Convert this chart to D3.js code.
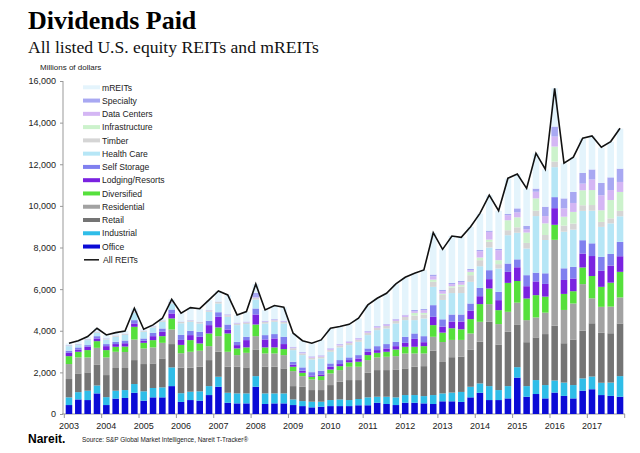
<!DOCTYPE html>
<html>
<head>
<meta charset="utf-8">
<script src="https://cdn.jsdelivr.net/npm/d3@7"></script>
<style>
  body { margin: 0; background: #fff; }
  svg text { font-family: "Liberation Sans", Arial, sans-serif; }
  svg text.serif { font-family: "Liberation Serif", "DejaVu Serif", serif; }
</style>
</head>
<body>
<div id="chart"></div>
<script>
// years on the x axis, four quarters each
var years = [2003, 2004, 2005, 2006, 2007, 2008, 2009, 2010, 2011, 2012, 2013, 2014, 2015, 2016, 2017];
var yTicks = [0, 2000, 4000, 6000, 8000, 10000, 12000, 14000, 16000];

// millions of dollars, quarterly 2003Q1 .. 2017Q4
var office = [430,700,670,990,430,740,770,1020,640,800,800,1340,580,670,640,910,1310,540,510,
  510,1310,480,510,510,430,380,320,350,380,380,380,420,420,540,480,430,540,
  540,510,480,610,610,580,800,1020,670,670,750,
  1750,830,960,750,1030,870,750,1120,1190,910,870,830];
var industrial = [370,350,450,380,380,380,380,420,450,450,480,900,420,400,450,430,480,480,480,
  480,510,510,480,480,270,240,270,240,290,320,290,300,380,290,350,370,370,
  370,350,430,380,420,480,510,450,670,480,590,
  500,510,670,640,580,640,640,590,610,590,640,990];
var retail = [880,900,880,990,1060,1090,1060,1150,1310,1180,1390,1120,1230,1150,1180,1250,1200,1250,1280,
  1250,1280,1280,1280,1200,640,690,560,560,720,850,960,910,1180,1280,1280,1340,1280,
  1360,1440,2130,1510,1700,1700,1790,2000,3090,2190,2610,
  2030,2110,2050,2450,2630,1890,2190,2290,2560,2400,2370,2530];
var residential = [720,770,720,820,850,780,770,990,750,770,750,700,690,770,770,670,750,720,560,
  700,640,640,640,640,720,510,510,480,560,560,640,640,610,610,640,640,720,
  640,610,670,960,830,800,770,960,850,980,960,
  1070,1060,960,1030,4130,1600,1730,2240,1200,1250,1280,1250];
var diversified = [380,270,350,320,350,240,260,610,270,350,320,530,400,560,350,610,420,880,320,
  260,560,290,290,290,210,160,130,190,190,190,210,240,240,220,240,320,320,
  320,350,560,450,560,510,690,850,750,670,1390,
  1040,1040,1070,770,720,770,590,800,1070,960,1150,1230];
var lodging = [160,110,160,130,190,130,160,160,100,190,210,240,240,240,320,400,510,190,160,
  350,480,380,430,240,100,100,60,80,130,100,110,160,160,130,160,160,190,
  380,190,400,290,320,370,400,380,450,480,530,
  660,590,660,610,800,670,610,670,960,770,820,750];
var selfStorage = [100,100,80,110,100,110,130,160,110,160,160,190,240,210,240,210,220,240,160,
  160,290,210,210,350,140,160,160,180,160,190,130,160,160,190,210,210,290,
  260,290,560,350,340,340,350,400,430,400,400,
  380,530,420,510,530,560,560,640,610,670,560,690];
var healthCare = [220,110,240,160,220,240,270,350,320,260,320,290,560,430,400,430,420,370,800,
  610,430,560,590,640,560,590,610,590,560,610,590,640,640,770,750,880,800,
  640,850,880,930,1030,1030,1040,1040,1090,1120,1360,
  1280,1280,2720,1600,1440,1760,1790,1410,1570,1440,1470,1230];
var timber = [30,30,40,40,40,40,40,50,40,40,50,50,60,60,60,60,70,70,70,
  70,80,70,70,70,90,80,80,80,90,90,100,100,110,110,120,120,150,
  220,190,240,240,270,320,320,290,270,210,240,
  260,270,260,240,270,290,290,270,270,240,240,260];
var infrastructure = [0,0,0,0,0,0,0,0,0,0,0,0,0,0,0,0,0,0,0,
  0,0,0,0,0,0,0,0,0,0,0,0,0,0,0,0,0,0,
  130,80,110,60,60,80,160,130,110,190,480,
  480,500,590,560,720,430,560,720,720,560,880,910];
var dataCenters = [0,0,0,0,0,0,0,0,0,0,0,0,0,0,0,0,0,20,20,
  20,30,30,30,30,40,40,40,40,50,50,50,60,60,60,70,70,80,
  80,130,160,130,100,130,80,300,370,480,240,
  240,160,320,350,480,400,430,320,510,720,480,480];
var specialty = [20,20,20,20,20,20,20,20,20,20,20,20,20,20,20,20,20,30,30,
  30,210,30,30,30,30,30,30,30,30,30,30,30,30,30,30,30,30,
  60,60,80,60,60,60,60,60,60,60,60,
  190,160,150,450,480,480,530,510,480,590,610,640];
var mREITs = [80,160,100,150,150,130,130,140,50,50,90,120,400,590,620,480,500,920,360,
  470,420,510,640,640,640,540,620,730,950,820,810,930,1240,1320,1460,1670,1790,
  1750,1860,2000,1940,2260,2100,2020,1750,1700,1830,1700,
  1650,1790,1690,1790,1840,1680,1650,1650,1600,1700,1710,1920];
var allREITs = [3400,3520,3720,4120,3800,3910,3990,5080,4070,4280,4600,5510,4840,5110,5060,5480,5910,5720,4760,
  4920,6250,5000,5210,5130,3880,3520,3400,3560,4120,4200,4310,4600,5240,5560,5800,6250,6570,
  6760,6920,8710,7910,8550,8490,9000,9640,10520,9770,11330,
  11530,10840,12530,11760,15650,12050,12340,13250,13360,12820,13090,13730];

// bottom to top
var sectors = [
  {key: 'Office', values: office, color: '#0b0bd6'},
  {key: 'Industrial', values: industrial, color: '#2fbde8'},
  {key: 'Retail', values: retail, color: '#747474'},
  {key: 'Residential', values: residential, color: '#a2a2a2'},
  {key: 'Diversified', values: diversified, color: '#56e03c'},
  {key: 'Lodging/Resorts', values: lodging, color: '#7a22e0'},
  {key: 'Self Storage', values: selfStorage, color: '#8080ef'},
  {key: 'Health Care', values: healthCare, color: '#b6e6f6'},
  {key: 'Timber', values: timber, color: '#d5d5d5'},
  {key: 'Infrastructure', values: infrastructure, color: '#ccf2cc'},
  {key: 'Data Centers', values: dataCenters, color: '#d4b6f4'},
  {key: 'Specialty', values: specialty, color: '#a8a8f2'},
  {key: 'mREITs', values: mREITs, color: '#e4f4fc'}
];

class DividendChart {
    constructor(option) {
        for (let [key, value] of Object.entries(option)) {
            this[key] = value;
        }
        this.quarters = [];
        this.years.forEach(y => [1, 2, 3, 4].forEach(q => this.quarters.push(y + 'Q' + q)));
        this.creatSvg();
        this.creatAxis();
        this.creatBars();
        this.creatLine();
        this.creatLegend();
        this.creatTitles();
    }
    creatSvg() {
        this.svg = d3.select(this.ele)
            .append('svg')
            .attr('width', this.width)
            .attr('height', this.height);
    }
    creatAxis() {
        this.x = d3.scaleBand()
            .domain(this.quarters)
            .range([64.3, 624.7])
            .paddingInner(0.3)
            .paddingOuter(0.15);
        this.y = d3.scaleLinear()
            .domain([0, 16000])
            .range([414, 81]);

        let yAxis = d3.axisLeft(this.y)
            .tickValues(this.yTicks)
            .tickSize(3)
            .tickPadding(4)
            .tickFormat(d3.format(','));
        let gy = this.svg.append('g')
            .attr('class', 'y axis')
            .attr('transform', 'translate(63,0)')
            .call(yAxis);
        gy.select('.domain').attr('stroke', '#999').attr('d', 'M0,81V414');
        gy.selectAll('.tick line').attr('stroke', '#999');
        gy.selectAll('text').attr('font-size', 9).attr('fill', '#222');

        // x axis with ticks on year boundaries
        let yearScale = d3.scaleLinear()
            .domain([this.years[0], this.years[this.years.length - 1] + 1])
            .range([64.3, 624.7]);
        let gx = this.svg.append('g')
            .attr('class', 'x axis')
            .attr('transform', 'translate(0,414)');
        gx.append('line')
            .attr('x1', 62).attr('x2', 625)
            .attr('stroke', '#999');
        let yrs = this.years.concat([this.years[this.years.length - 1] + 1]);
        gx.selectAll('.yt').data(yrs).enter().append('line')
            .attr('class', 'yt')
            .attr('x1', d => yearScale(d)).attr('x2', d => yearScale(d))
            .attr('y1', 0).attr('y2', 4)
            .attr('stroke', '#999');
        let _this = this;
        gx.selectAll('.yl').data(this.years).enter().append('text')
            .attr('class', 'yl')
            .attr('x', d => _this.x(d + 'Q1') + _this.x.bandwidth() / 2)
            .attr('y', 15)
            .attr('text-anchor', 'middle')
            .attr('font-size', 9)
            .attr('fill', '#222')
            .text(d => d);
    }
    creatBars() {
        let _this = this;
        let rows = this.quarters.map(function(q, i) {
            let r = {q: q};
            _this.sectors.forEach(s => r[s.key] = s.values[i]);
            return r;
        });
        let stack = d3.stack().keys(this.sectors.map(s => s.key));
        let layers = stack(rows);
        this.svg.append('g').selectAll('g')
            .data(layers)
            .enter().append('g')
            .attr('fill', (d, i) => _this.sectors[i].color)
            .selectAll('rect')
            .data(d => d)
            .enter().append('rect')
            .attr('x', d => _this.x(d.data.q))
            .attr('width', this.x.bandwidth())
            .attr('y', d => _this.y(d[1]))
            .attr('height', d => Math.max(0, _this.y(d[0]) - _this.y(d[1])));
    }
    creatLine() {
        let _this = this;
        let line = d3.line()
            .x((d, i) => _this.x(_this.quarters[i]) + _this.x.bandwidth() / 2)
            .y(d => _this.y(d));
        this.svg.append('path')
            .attr('class', 'line')
            .attr('fill', 'none')
            .attr('stroke', '#111')
            .attr('stroke-width', 1.6)
            .attr('stroke-linejoin', 'miter')
            .attr('d', line(this.total));
    }
    creatLegend() {
        let items = this.sectors.slice().reverse();
        let g = this.svg.append('g').attr('class', 'legend');
        let row = g.selectAll('.row')
            .data(items)
            .enter().append('g')
            .attr('transform', (d, i) => 'translate(83,' + (87.3 + i * 13.27) + ')');
        row.append('rect')
            .attr('x', 0).attr('y', -2)
            .attr('width', 17).attr('height', 4)
            .attr('fill', d => d.color);
        row.append('text')
            .attr('x', 19).attr('y', 3.2)
            .attr('font-size', 8.6)
            .attr('fill', '#222')
            .text(d => d.key);
        let last = g.append('g')
            .attr('transform', 'translate(83,' + (87.3 + items.length * 13.27) + ')');
        last.append('line')
            .attr('x1', 1).attr('x2', 16)
            .attr('stroke', '#111').attr('stroke-width', 1.5);
        last.append('text')
            .attr('x', 20).attr('y', 3.2)
            .attr('font-size', 8.6)
            .attr('fill', '#222')
            .text('All REITs');
    }
    creatTitles() {
        this.svg.append('text')
            .attr('class', 'serif')
            .attr('x', 28).attr('y', 29)
            .attr('font-weight', 'bold')
            .attr('font-size', 26)
            .attr('fill', '#000')
            .text('Dividends Paid');
        this.svg.append('text')
            .attr('class', 'serif')
            .attr('x', 28).attr('y', 53)
            .attr('font-size', 17.6)
            .attr('fill', '#111')
            .text('All listed U.S. equity REITs and mREITs');
        this.svg.append('text')
            .attr('x', 40).attr('y', 70)
            .attr('font-size', 8)
            .attr('fill', '#222')
            .text('Millions of dollars');
        this.svg.append('text')
            .attr('x', 28).attr('y', 443)
            .attr('font-size', 12)
            .attr('font-weight', 'bold')
            .attr('fill', '#000')
            .text('Nareit.');
        this.svg.append('text')
            .attr('x', 82).attr('y', 442)
            .attr('font-size', 6.4)
            .attr('fill', '#222')
            .text('Source: S&P Global Market Intelligence, Nareit T-Tracker®');
    }
}

let chart = new DividendChart({
    ele: document.getElementById('chart'),
    width: 640,
    height: 453,
    years: years,
    yTicks: yTicks,
    sectors: sectors,
    total: allREITs
});
</script>
</body>
</html>
